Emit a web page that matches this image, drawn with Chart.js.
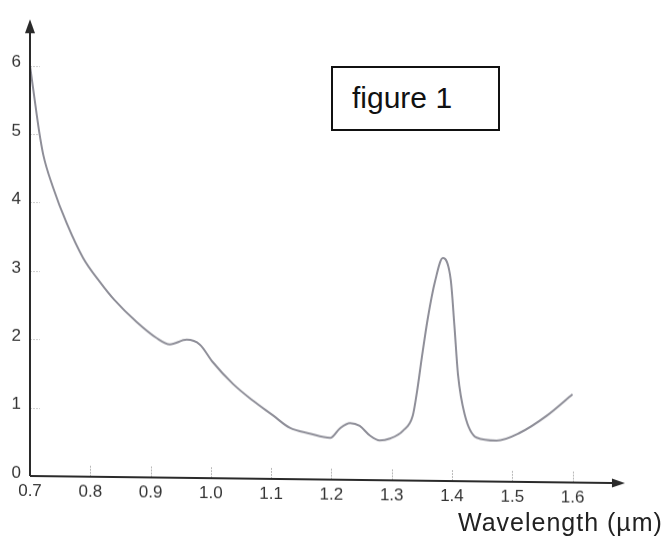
<!DOCTYPE html>
<html>
<head>
<meta charset="utf-8">
<script src="https://cdn.jsdelivr.net/npm/chart.js@4.4.1/dist/chart.umd.min.js"></script>
<style>
    html, body { margin: 0; padding: 0; background: #fff; overflow: hidden; }
    #wrap { position: relative; width: 665px; height: 538px; }
    /* the scanned x axis runs slightly downhill, the y axis stays upright */
    #plot { position: absolute; left: 0; top: 0; transform: skewY(0.69deg); transform-origin: 30px 476px; }
    #figLabel {
        position: absolute; left: 331px; top: 66px; width: 169px; height: 65px;
        box-sizing: border-box; border: 2px solid #111; background: #fff;
        padding: 15px 0 0 19px; line-height: 30px;
        font-family: "Liberation Sans", Arial, sans-serif; font-size: 30px; color: #111;
    }
    #xTitle {
        position: absolute; left: 458px; top: 510px; white-space: nowrap;
        font-family: "Liberation Sans", Arial, sans-serif; font-size: 25px; line-height: 25px;
        letter-spacing: 1px; color: #222;
    }
</style>
</head>
<body>
<div id="wrap">
    <canvas id="plot" width="665" height="538"></canvas>
    <div id="figLabel">figure 1</div>
    <div id="xTitle">Wavelength (µm)</div>
</div>
<script>
// spectrum
const wavelength = [
    0.700, 0.707, 0.715, 0.722, 0.738, 0.761, 0.788, 0.816, 0.840, 0.877,
    0.910, 0.932, 0.960, 0.982, 1.003, 1.037, 1.070, 1.103, 1.131, 1.164,
    1.198, 1.214, 1.231, 1.247, 1.264, 1.280, 1.297, 1.319, 1.335, 1.342,
    1.350, 1.360, 1.372, 1.385, 1.398, 1.404, 1.410, 1.421, 1.441, 1.474,
    1.513, 1.557, 1.600
];
const intensity = [
    6.00, 5.55, 5.05, 4.70, 4.23, 3.70, 3.20, 2.85, 2.59, 2.27,
    2.04, 1.95, 2.02, 1.95, 1.70, 1.38, 1.14, 0.93, 0.75, 0.67,
    0.61, 0.75, 0.83, 0.79, 0.65, 0.58, 0.61, 0.73, 0.95, 1.30,
    1.80, 2.38, 2.92, 3.26, 2.94, 2.28, 1.56, 0.98, 0.64, 0.60,
    0.72, 0.97, 1.29
];
const xTicks = [0.7, 0.8, 0.9, 1.0, 1.1, 1.2, 1.3, 1.4, 1.5, 1.6];
const xTickLabels = ['0.7', '0.8', '0.9', '1.0', '1.1', '1.2', '1.3', '1.4', '1.5', '1.6'];
const yTicks = [0, 1, 2, 3, 4, 5, 6];
const yTickLabels = ['0', '1', '2', '3', '4', '5', '6'];

const labelFont = { family: '"Liberation Sans", Arial, sans-serif', size: 17 };

// hand-drawn look: short tick marks, arrowheads on both axes
const sketchAxes = {
    id: 'sketchAxes',
    beforeDatasetsDraw(chart) {
        const { ctx, chartArea: a, scales: { x, y } } = chart;
        ctx.save();
        ctx.lineWidth = 1;
        ctx.strokeStyle = '#b8b8b8';
        ctx.setLineDash([2, 1]);
        xTicks.slice(1).forEach(v => {
            const px = Math.round(x.getPixelForValue(v)) + 0.5;
            ctx.beginPath();
            ctx.moveTo(px, a.bottom);
            ctx.lineTo(px, a.bottom - 12);
            ctx.stroke();
        });
        ctx.strokeStyle = '#cfcfcf';
        yTicks.slice(1).forEach(v => {
            const py = Math.round(y.getPixelForValue(v)) + 0.5;
            ctx.beginPath();
            ctx.moveTo(a.left, py);
            ctx.lineTo(a.left + 10, py);
            ctx.stroke();
        });
        ctx.restore();
    },
    afterDraw(chart) {
        const { ctx, chartArea: a } = chart;
        ctx.save();
        ctx.strokeStyle = '#2a2a2a';
        ctx.fillStyle = '#2a2a2a';
        ctx.lineWidth = 2;
        ctx.beginPath();
        ctx.moveTo(a.left, a.bottom);
        ctx.lineTo(a.left, a.top + 8);
        ctx.moveTo(a.left, a.bottom);
        ctx.lineTo(a.right - 8, a.bottom);
        ctx.stroke();
        ctx.beginPath();
        ctx.moveTo(a.left, a.top);
        ctx.lineTo(a.left - 5, a.top + 14);
        ctx.lineTo(a.left + 5, a.top + 14);
        ctx.closePath();
        ctx.fill();
        ctx.beginPath();
        ctx.moveTo(a.right, a.bottom);
        ctx.lineTo(a.right - 13, a.bottom - 4.5);
        ctx.lineTo(a.right - 13, a.bottom + 4.5);
        ctx.closePath();
        ctx.fill();
        ctx.restore();
    }
};

new Chart(document.getElementById('plot'), {
    type: 'line',
    data: {
        datasets: [{
            data: wavelength.map((w, i) => ({ x: w, y: intensity[i] })),
            borderColor: '#8e8e98',
            borderWidth: 2,
            pointRadius: 0,
            fill: false,
            cubicInterpolationMode: 'monotone'
        }]
    },
    options: {
        responsive: false,
        animation: false,
        layout: { padding: { top: 13, right: 40, left: 0, bottom: 0 } },
        plugins: { legend: { display: false }, tooltip: { enabled: false } },
        scales: {
            x: {
                type: 'linear',
                min: 0.7,
                max: 1.687,
                afterBuildTicks: s => { s.ticks = xTicks.map(v => ({ value: v })); },
                afterFit: s => { s.height = 62; },
                grid: { display: false, drawTicks: false },
                border: { display: false },
                ticks: {
                    autoSkip: false,
                    maxRotation: 0,
                    padding: 5,
                    color: '#333',
                    font: labelFont,
                    callback: (v, i) => xTickLabels[i]
                }
            },
            y: {
                min: 0,
                max: 6.68,
                afterBuildTicks: s => { s.ticks = yTicks.map(v => ({ value: v })); },
                afterFit: s => { s.width = 30; },
                grid: { display: false, drawTicks: false },
                border: { display: false },
                ticks: {
                    padding: 9,
                    labelOffset: -3,
                    color: '#333',
                    font: labelFont,
                    callback: (v, i) => yTickLabels[i]
                }
            }
        }
    },
    plugins: [sketchAxes]
});
</script>
</body>
</html>
